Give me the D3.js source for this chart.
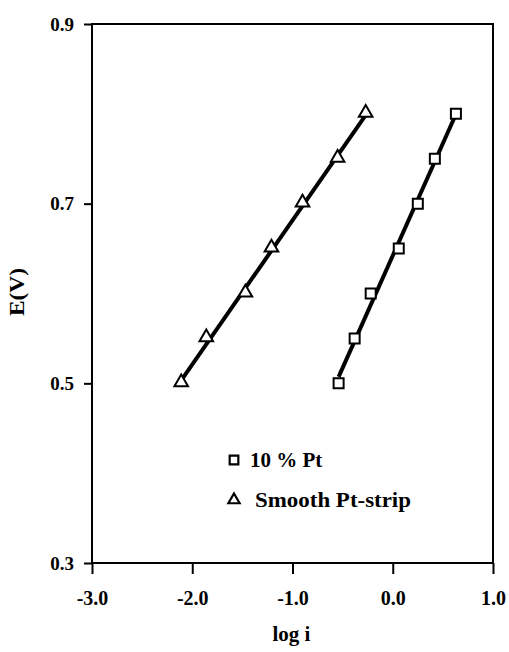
<!DOCTYPE html>
<html>
<head>
<meta charset="utf-8">
<script src="https://cdn.jsdelivr.net/npm/d3@7"></script>
<style>
  html, body { margin: 0; padding: 0; background: #fff; }
  svg { display: block; }
  text { font-family: "Liberation Serif", "Times New Roman", serif; fill: #000; }
</style>
</head>
<body>
<svg id="chart" width="509" height="652"></svg>
<script>
// ---- data ----
const xTicks = [-3.0, -2.0, -1.0, 0.0, 1.0];
const yTicks = [0.3, 0.5, 0.7, 0.9];
const seriesNames = ["10 % Pt", "Smooth Pt-strip"];
const ptLogI = [-0.54, -0.38, -0.22, 0.06, 0.25, 0.42, 0.63];
const ptE    = [0.50, 0.55, 0.60, 0.65, 0.70, 0.75, 0.80];
const stripLogI = [-2.11, -1.86, -1.47, -1.21, -0.90, -0.55, -0.27];
const stripE    = [0.50, 0.55, 0.60, 0.65, 0.70, 0.75, 0.80];
const xTitle = "log i";
const yTitle = "E(V)";

// ---- layout ----
const svg = d3.select("#chart");
const L = 92, R = 493, T = 24, B = 563;
const x = d3.scaleLinear().domain([-3, 1]).range([L, R]);
const y = d3.scaleLinear().domain([0.3, 0.9]).range([B, T]);
const fmt = d => d.toFixed(1);

// frame
svg.append("rect").attr("x", L).attr("y", T).attr("width", R - L).attr("height", B - T)
  .attr("fill", "none").attr("stroke", "#000").attr("stroke-width", 2);

// axes
const xAxis = d3.axisBottom(x).tickValues(xTicks).tickFormat(fmt).tickSize(11).tickPadding(17);
const gx = svg.append("g").attr("transform", `translate(0,${B})`).call(xAxis);
gx.select(".domain").remove();
gx.selectAll("line").attr("stroke", "#000").attr("stroke-width", 2);
gx.selectAll("text").attr("font-size", 20).attr("font-weight", "bold")
  .style("font-family", "'Liberation Serif', serif");

const yAxis = d3.axisLeft(y).tickValues(yTicks).tickFormat(fmt).tickSize(8).tickPadding(10);
const gy = svg.append("g").attr("transform", `translate(${L},0)`).call(yAxis);
gy.select(".domain").remove();
gy.selectAll("line").attr("stroke", "#000").attr("stroke-width", 2);
gy.selectAll("text").attr("font-size", 19).attr("font-weight", "bold")
  .style("font-family", "'Liberation Serif', serif");

// titles
svg.append("text").attr("x", (L + R) / 2 - 1).attr("y", 641).attr("text-anchor", "middle")
  .attr("font-size", 21).attr("font-weight", "bold").text(xTitle);
svg.append("text").attr("transform", `translate(24,292) rotate(-90)`).attr("text-anchor", "middle")
  .attr("font-size", 21).attr("font-weight", "bold")
  .attr("textLength", 48).attr("lengthAdjust", "spacingAndGlyphs").text(yTitle);

// regression lines
function fit(xs, ys) {
  const mx = d3.mean(xs), my = d3.mean(ys);
  let sxy = 0, sxx = 0;
  xs.forEach((v, i) => { sxy += (v - mx) * (ys[i] - my); sxx += (v - mx) * (v - mx); });
  const b = sxy / sxx, a = my - b * mx;
  const [x0, x1] = d3.extent(xs);
  return [[x0, a + b * x0], [x1, a + b * x1]];
}
const line = d3.line().x(d => x(d[0])).y(d => y(d[1]));
[[ptLogI, ptE], [stripLogI, stripE]].forEach(([xs, ys]) => {
  svg.append("path").attr("d", line(fit(xs, ys)))
    .attr("fill", "none").attr("stroke", "#000").attr("stroke-width", 4);
});

// markers
const sq = d3.symbol().type(d3.symbolSquare).size(100);
const tri = d3.symbol().type(d3.symbolTriangle).size(80);
svg.append("g").selectAll("path").data(d3.zip(ptLogI, ptE)).join("path")
  .attr("d", sq).attr("transform", d => `translate(${x(d[0])},${y(d[1])})`)
  .attr("fill", "#fff").attr("stroke", "#000").attr("stroke-width", 2);
svg.append("g").selectAll("path").data(d3.zip(stripLogI, stripE)).join("path")
  .attr("d", tri).attr("transform", d => `translate(${x(d[0])},${y(d[1]) - 1})`)
  .attr("fill", "#fff").attr("stroke", "#000").attr("stroke-width", 2);

// legend
const lg = svg.append("g");
lg.append("path").attr("d", d3.symbol().type(d3.symbolSquare).size(75))
  .attr("transform", "translate(234,460)").attr("fill", "#fff").attr("stroke", "#000").attr("stroke-width", 2.2);
lg.append("text").attr("x", 250).attr("y", 467).attr("font-size", 21).attr("font-weight", "bold")
  .text(seriesNames[0]);
lg.append("path").attr("d", d3.symbol().type(d3.symbolTriangle).size(55))
  .attr("transform", "translate(234,500)").attr("fill", "#fff").attr("stroke", "#000").attr("stroke-width", 2.2);
lg.append("text").attr("x", 255).attr("y", 507).attr("font-size", 21).attr("font-weight", "bold")
  .attr("textLength", 156).attr("lengthAdjust", "spacingAndGlyphs").text(seriesNames[1]);
</script>
</body>
</html>
